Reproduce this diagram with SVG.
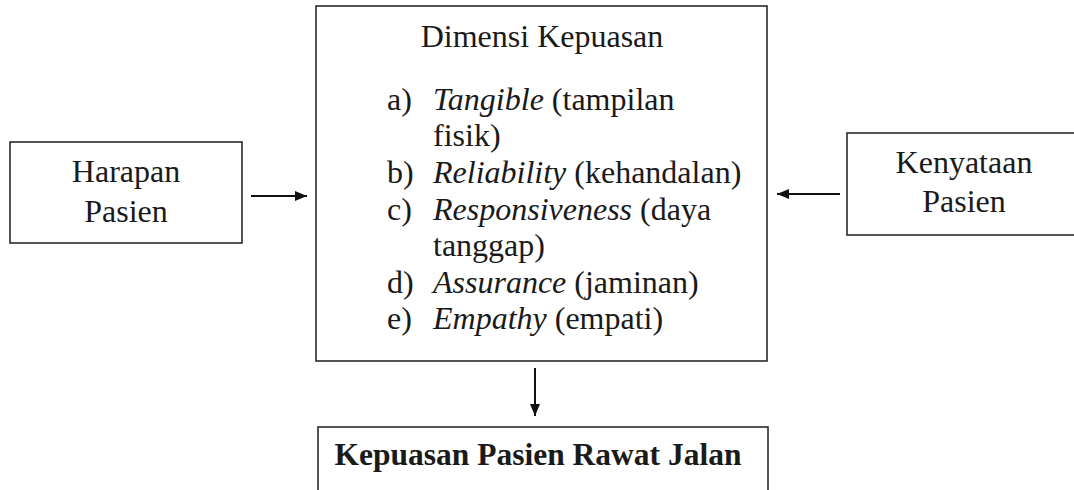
<svg xmlns="http://www.w3.org/2000/svg" width="1074" height="490" viewBox="0 0 1074 490">
<style>
.box{fill:#fff;stroke:#2a2a2a;stroke-width:1.6}
.t{font-family:"Liberation Serif","Times New Roman",serif;font-size:32px;fill:#1a1a1a}
.b{font-weight:bold;font-size:31.5px}
.i{font-style:italic}
.conn{stroke:#111;stroke-width:2;fill:none}
</style>
<defs>
<marker id="ah" markerWidth="12" markerHeight="10" refX="12" refY="5" orient="auto" markerUnits="userSpaceOnUse">
<path d="M0,0 L12,5 L0,10 Z" fill="#111"/>
</marker>
</defs>
<rect width="1074" height="490" fill="#fff"/>
<g id="harapan">
<rect class="box" x="10" y="142" width="232" height="101"/>
<text class="t" x="126" y="182" text-anchor="middle">Harapan</text>
<text class="t" x="126" y="222" text-anchor="middle">Pasien</text>
</g>
<g id="dimensi">
<rect class="box" x="316" y="6" width="451" height="355"/>
<text class="t" x="542" y="47" text-anchor="middle">Dimensi Kepuasan</text>
<text class="t" x="387" y="110">a)</text>
<text class="t" x="433" y="110"><tspan class="i">Tangible</tspan> (tampilan</text>
<text class="t" x="433" y="146">fisik)</text>
<text class="t" x="387" y="183">b)</text>
<text class="t" x="433" y="183"><tspan class="i">Reliability</tspan> (kehandalan)</text>
<text class="t" x="387" y="220">c)</text>
<text class="t" x="433" y="220"><tspan class="i">Responsiveness</tspan> (daya</text>
<text class="t" x="433" y="256">tanggap)</text>
<text class="t" x="387" y="293">d)</text>
<text class="t" x="433" y="293"><tspan class="i">Assurance</tspan> (jaminan)</text>
<text class="t" x="387" y="329">e)</text>
<text class="t" x="433" y="329"><tspan class="i">Empathy</tspan> (empati)</text>
</g>
<g id="kenyataan">
<rect class="box" x="847" y="133" width="240" height="102"/>
<text class="t" x="964" y="173" text-anchor="middle">Kenyataan</text>
<text class="t" x="964" y="212" text-anchor="middle">Pasien</text>
</g>
<g id="kepuasan">
<rect class="box" x="318" y="427" width="450" height="80"/>
<text class="t b" x="538" y="465" text-anchor="middle">Kepuasan Pasien Rawat Jalan</text>
</g>
<g id="connectors">
<line class="conn" x1="251" y1="196" x2="307" y2="196" marker-end="url(#ah)"/>
<line class="conn" x1="840" y1="194" x2="777" y2="194" marker-end="url(#ah)"/>
<line class="conn" x1="535" y1="368" x2="535" y2="416" marker-end="url(#ah)"/>
</g>
</svg>
